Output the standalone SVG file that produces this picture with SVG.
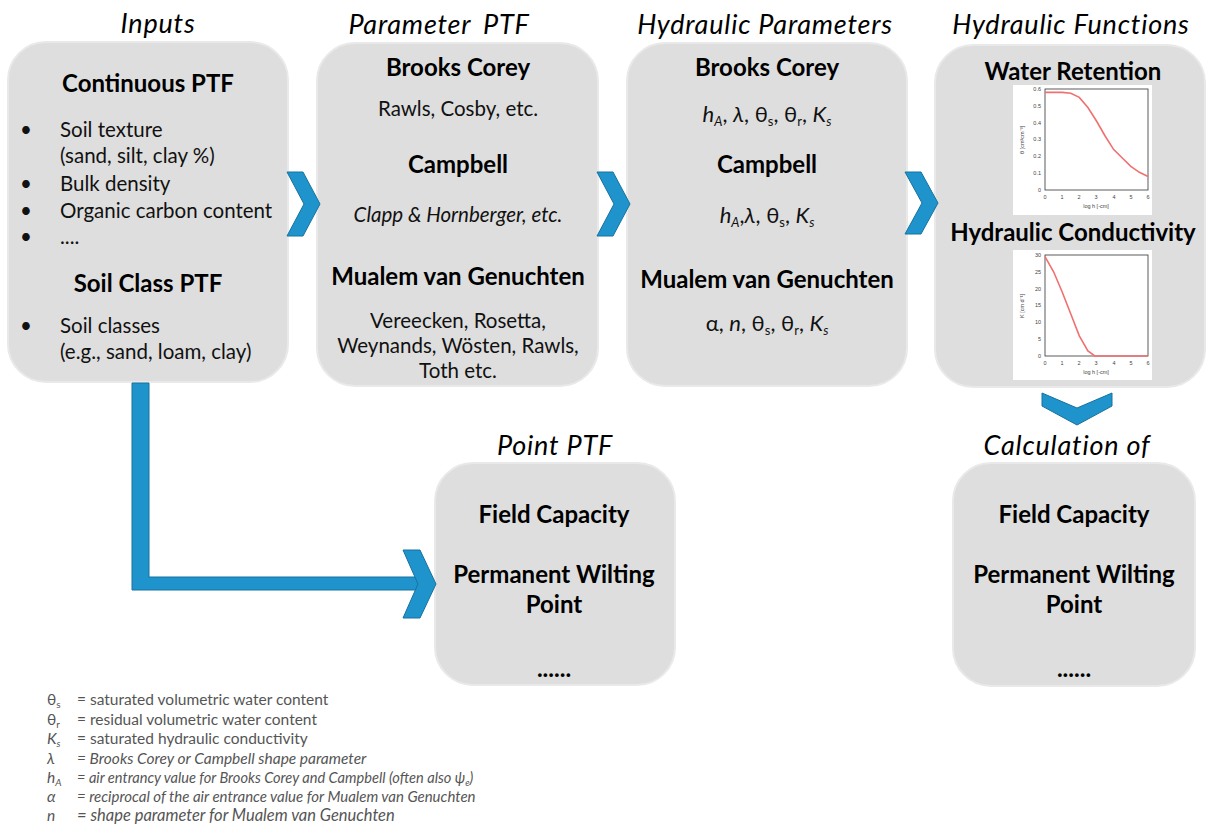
<svg xmlns="http://www.w3.org/2000/svg" width="1207" height="835" viewBox="0 0 1207 835">
<style>
.box{fill:#dedede;stroke:#e9e9e9;stroke-width:2}
.title{font-family:Lato,"Open Sans",sans-serif;font-style:italic;font-size:27px;letter-spacing:0.8px;fill:#000;text-anchor:middle}
.h{font-family:Lato,"Open Sans",sans-serif;font-weight:bold;font-size:24px;fill:#000;text-anchor:middle}
.r{font-family:Lato,"Open Sans",sans-serif;font-size:20.5px;fill:#111}
.f{font-family:Lato,"Open Sans",sans-serif;font-size:22px;fill:#111;text-anchor:middle}
.c{text-anchor:middle}
.it{font-style:italic}
.arr{fill:#1f94cc;stroke:#17729f;stroke-width:1}
.leg{font-family:Lato,"Open Sans",sans-serif;font-size:15.5px;fill:#555}
.ax{fill:none;stroke:#333;stroke-width:0.8}
.tk{font-family:"Liberation Sans",sans-serif;font-size:5.5px;fill:#444}
.cv{fill:none;stroke:#f07070;stroke-width:1.6}
</style>

<text class="title" x="158" y="33">Inputs</text>
<text class="title" x="439" y="34" word-spacing="5">Parameter PTF</text>
<text class="title" x="765" y="34">Hydraulic Parameters</text>
<text class="title" x="1071" y="34">Hydraulic Functions</text>
<text class="title" x="555" y="455">Point PTF</text>
<text class="title" x="1067" y="455">Calculation of</text>

<g id="inputs">
<rect class="box" x="8" y="42" width="280" height="340" rx="38"/>
<text class="h" x="148" y="92">Continuous PTF</text>
<g class="r">
<text x="20" y="137">•</text><text x="60" y="137">Soil texture</text>
<text x="60" y="163">(sand, silt, clay %)</text>
<text x="20" y="191">•</text><text x="60" y="191">Bulk density</text>
<text x="20" y="218">•</text><text x="60" y="218">Organic carbon content</text>
<text x="20" y="244">•</text><text x="60" y="244">....</text>
<text x="20" y="333">•</text><text x="60" y="333">Soil classes</text>
<text x="60" y="359">(e.g., sand, loam, clay)</text>
</g>
<text class="h" x="148" y="292">Soil Class PTF</text>
</g>

<g id="parameter-ptf">
<rect class="box" x="317" y="43" width="281" height="343" rx="38"/>
<text class="h" x="458" y="76">Brooks Corey</text>
<text class="r c" x="458" y="116">Rawls, Cosby, etc.</text>
<text class="h" x="458" y="173">Campbell</text>
<text class="r c it" x="458" y="222">Clapp &amp; Hornberger, etc.</text>
<text class="h" x="458" y="285">Mualem van Genuchten</text>
<text class="r c" x="458" y="328">Vereecken, Rosetta,</text>
<text class="r c" x="458" y="353">Weynands, Wösten, Rawls,</text>
<text class="r c" x="458" y="378">Toth etc.</text>
</g>

<g id="hydraulic-parameters">
<rect class="box" x="627" y="43" width="280" height="343" rx="38"/>
<text class="h" x="767" y="76">Brooks Corey</text>
<text class="f" x="767" y="122"><tspan class="it">h</tspan><tspan font-size="13" dy="4" class="it">A</tspan><tspan dy="-4">, </tspan><tspan class="it">λ</tspan>, θ<tspan font-size="13" dy="4">s</tspan><tspan dy="-4">, θ</tspan><tspan font-size="13" dy="4">r</tspan><tspan dy="-4">, </tspan><tspan class="it">K</tspan><tspan font-size="13" dy="4" class="it">s</tspan></text>
<text class="h" x="767" y="173">Campbell</text>
<text class="f" x="767" y="223"><tspan class="it">h</tspan><tspan font-size="13" dy="4" class="it">A</tspan><tspan dy="-4">,</tspan><tspan class="it">λ</tspan>, θ<tspan font-size="13" dy="4">s</tspan><tspan dy="-4">, </tspan><tspan class="it">K</tspan><tspan font-size="13" dy="4" class="it">s</tspan></text>
<text class="h" x="767" y="288">Mualem van Genuchten</text>
<text class="f" x="767" y="331">α, <tspan class="it">n</tspan>, θ<tspan font-size="13" dy="4">s</tspan><tspan dy="-4">, θ</tspan><tspan font-size="13" dy="4">r</tspan><tspan dy="-4">, </tspan><tspan class="it">K</tspan><tspan font-size="13" dy="4" class="it">s</tspan></text>
</g>

<g id="hydraulic-functions">
<rect class="box" x="935" y="45" width="270" height="342" rx="38"/>
<text class="h" x="1073" y="80">Water Retention</text>
<rect x="1013" y="85" width="139" height="130" fill="#fff"/>
<rect class="ax" x="1045" y="89" width="103" height="101"/>
<g class="tk" text-anchor="end">
<text x="1041" y="91">0.6</text><text x="1041" y="108">0.5</text><text x="1041" y="125">0.4</text><text x="1041" y="141">0.3</text><text x="1041" y="158">0.2</text><text x="1041" y="175">0.1</text><text x="1041" y="192">0</text>
</g>
<g class="tk" text-anchor="middle">
<text x="1045" y="199">0</text><text x="1062" y="199">1</text><text x="1079" y="199">2</text><text x="1096" y="199">3</text><text x="1114" y="199">4</text><text x="1131" y="199">5</text><text x="1148" y="199">6</text>
<text x="1096" y="208">log h [-cm]</text>
<text transform="translate(1024,140) rotate(-90)">θ [cm³cm⁻³]</text>
</g>
<polyline class="cv" points="1045,92.4 1062.2,92.4 1070.8,93.2 1079.3,97.4 1087.9,107.5 1096.5,121 1105.1,136 1113.7,149.6 1122.3,158 1130.8,166.4 1139.4,172.3 1148,176.5"/>

<text class="h" x="1073" y="241">Hydraulic Conductivity</text>
<rect x="1013" y="250" width="139" height="130" fill="#fff"/>
<rect class="ax" x="1045" y="255" width="103" height="101"/>
<g class="tk" text-anchor="end">
<text x="1041" y="257">30</text><text x="1041" y="274">25</text><text x="1041" y="291">20</text><text x="1041" y="307">15</text><text x="1041" y="324">10</text><text x="1041" y="341">5</text><text x="1041" y="358">0</text>
</g>
<g class="tk" text-anchor="middle">
<text x="1045" y="365">0</text><text x="1062" y="365">1</text><text x="1079" y="365">2</text><text x="1096" y="365">3</text><text x="1114" y="365">4</text><text x="1131" y="365">5</text><text x="1148" y="365">6</text>
<text x="1096" y="374">log h [-cm]</text>
<text transform="translate(1024,306) rotate(-90)">K [cm d⁻¹]</text>
</g>
<polyline class="cv" points="1045,256.7 1053.6,271.8 1062.2,292 1070.8,314 1079.3,335.8 1087.9,351 1094.8,356 1148,356"/>
</g>

<g id="point-ptf">
<rect class="box" x="435" y="463" width="240" height="222" rx="38"/>
<text class="h" x="554" y="523">Field Capacity</text>
<text class="h" x="554" y="583">Permanent Wilting</text>
<text class="h" x="554" y="613">Point</text>
<text class="h" x="554" y="677" font-size="18">......</text>
</g>

<g id="calculation">
<rect class="box" x="953" y="463" width="242" height="223" rx="38"/>
<text class="h" x="1074" y="523">Field Capacity</text>
<text class="h" x="1074" y="583">Permanent Wilting</text>
<text class="h" x="1074" y="613">Point</text>
<text class="h" x="1074" y="677" font-size="18">......</text>
</g>

<g id="connectors">
<polygon class="arr" points="287,172 303,172 320,204 303,236 287,236 304,204"/>
<polygon class="arr" points="597,172 613,172 630,204 613,236 597,236 614,204"/>
<polygon class="arr" points="905,172 921,172 938,203 921,234 905,234 922,203"/>
<polygon class="arr" points="1042,393 1077,408 1112,393 1112,406 1077,425 1042,406"/>
<path class="arr" d="M132,383 H149 V577 H420 V590 H132 Z"/>
<polygon class="arr" points="403,550 420,550 436,584 420,618 403,618 418,584"/>
</g>

<g id="legend" class="leg">
<text x="47" y="705">θ<tspan font-size="10" dy="3">s</tspan></text><text x="77" y="705">= saturated volumetric water content</text>
<text x="47" y="725">θ<tspan font-size="10" dy="3">r</tspan></text><text x="77" y="725">= residual volumetric water content</text>
<text x="47" y="744" font-style="italic">K<tspan font-size="10" dy="3">s</tspan></text><text x="77" y="744">= saturated hydraulic conductivity</text>
<text x="47" y="764" font-style="italic">λ</text><text x="77" y="764" font-style="italic">= Brooks Corey or Campbell shape parameter</text>
<text x="47" y="783" font-style="italic">h<tspan font-size="10" dy="3">A</tspan></text><text x="77" y="783" font-style="italic" font-size="14.6">= air entrancy value for Brooks Corey and Campbell (often also ψ<tspan font-size="9" dy="3">e</tspan><tspan dy="-3">)</tspan></text>
<text x="47" y="802" font-style="italic">α</text><text x="77" y="802" font-style="italic" font-size="15">= reciprocal of the air entrance value for Mualem van Genuchten</text>
<text x="47" y="821" font-style="italic">n</text><text x="77" y="821" font-style="italic" font-size="16.5">= shape parameter for Mualem van Genuchten</text>
</g>
</svg>
